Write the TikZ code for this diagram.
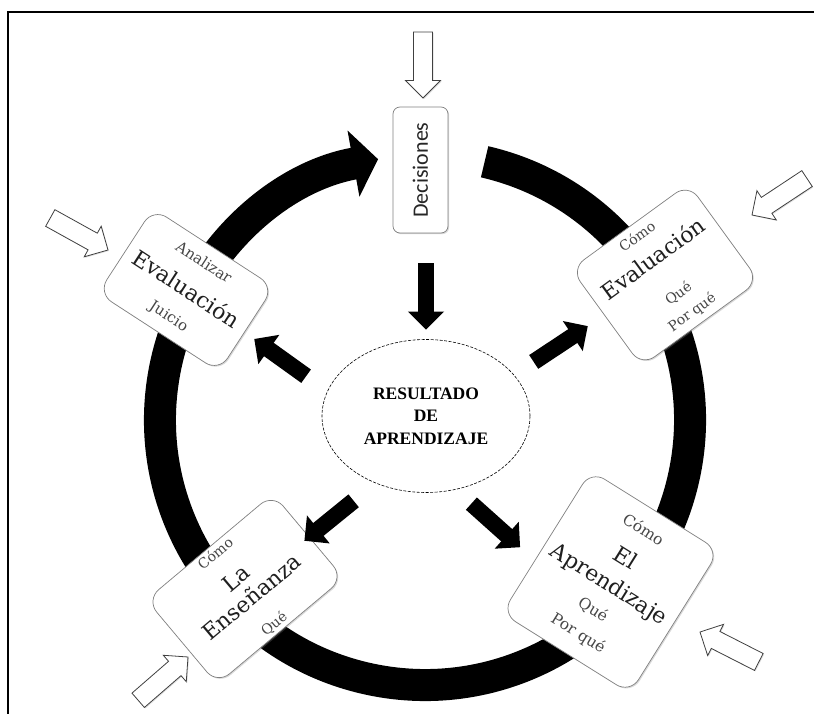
\documentclass[tikz,border=0pt]{standalone}
\usepackage{fontspec}
\setmainfont{DejaVu Serif}
\newfontfamily\calibri{Carlito}
\newfontfamily\resfont{Liberation Serif}
\usetikzlibrary{arrows.meta,shapes.geometric,shadows}
\newcommand\pq[1][14]{\fontsize{#1}{#1}\selectfont\color{black!72}}
\newcommand\gr{\fontsize{22}{22}\selectfont\color{black!88}}
\begin{document}
\begin{tikzpicture}[x=1pt,y=1pt,
	caja/.style={draw=black!50,fill=white,line width=0.7pt,rounded corners=16pt,inner sep=0pt,align=center,
		drop shadow={opacity=0.3,shadow xshift=1.2pt,shadow yshift=-1.2pt}},
	flecha/.style={line width=16.5pt,-{Triangle[length=18pt,width=35pt]}},
	hueca/.pic={\draw[black!75,fill=white,line width=0.8pt,drop shadow={opacity=0.25,shadow xshift=1pt,shadow yshift=-1pt}]
		(0,0) -- (-17.5,17.5) -- (-17.5,9.5) -- (-66,9.5) -- (-66,-9.5) -- (-17.5,-9.5) -- (-17.5,-17.5) -- cycle;}]
	\useasboundingbox (0,0) rectangle (814,713);
	%Marco
	\draw[line width=1.5pt] (8,-20) -- (8,701) -- (840,701);
	%Circulo
	\coordinate (c) at (425,293);
	\draw[line width=32pt,-{Triangle[length=25pt,width=66pt]}] ([shift={(77:265pt)}]c) arc[start angle=77,end angle=-259.8,radius=265pt];
	%Centro
	\node[ellipse,draw,dash pattern=on 3pt off 1.5pt,line width=0.6pt,minimum width=208pt,minimum height=153pt,inner sep=0pt,align=center,
		font=\resfont\bfseries\fontsize{17.5}{22.5}\selectfont] (res) at (426,297) {RESULTADO\\DE\\APRENDIZAJE};
	%Caja 1
	\node[caja,rounded corners=7pt,rotate=90,minimum width=126pt,minimum height=55pt,text=black!85,
		font=\calibri\fontsize{22}{22}\selectfont] (dec) at (420.5,543) {Decisiones};
	%Caja 2
	\node[caja,rotate=36,minimum width=145pt,minimum height=120pt,font=\fontsize{13}{23}\selectfont] (evr) at (665,438)
		{{\pq Cómo}\\[7pt]{\gr Evaluación}\\[17pt]{\pq Qué}\\{\pq Por qué}};
	%Caja 3
	\node[caja,rotate=-33,minimum width=144pt,minimum height=101pt,font=\fontsize{13}{29.5}\selectfont] (evl) at (186,423)
		{{\pq[15] Analizar}\\[5pt]{\gr Evaluación}\\{\pq[15] Juicio}};
	%Caja 4
	\node[caja,rotate=40,minimum width=165pt,minimum height=110pt,font=\fontsize{13}{24.7}\selectfont] (enl) at (245,124)
		{{\pq Cómo}\\[10pt]{\gr La}\\{\gr Enseñanza}\\[7pt]{\pq Qué}};
	%Caja 5
	\node[caja,rotate=-32,minimum width=151pt,minimum height=168pt,font=\fontsize{13}{26}\selectfont] (ela) at (610.5,131)
		{{\pq[15.5] Cómo}\\[9.7pt]{\gr El}\\[4.6pt]{\gr Aprendizaje}\\[2pt]{\pq[15.5] Qué}\\[2pt]{\pq[15.5] Por qué}};
	%Flechas negras
	\draw[flecha,shorten <=30pt,shorten >=9.5pt] (res.north |- dec.west) -- (res.north);
	\draw[flecha,shorten <=26pt,shorten >=84pt] (res.166) -- (evl.center);
	\draw[flecha,shorten <=23.5pt,shorten >=92.6pt] (res.25) -- (evr.center);
	\draw[flecha,shorten <=28pt,shorten >=76.5pt] (res.233) -- (enl.center);
	\draw[flecha,shorten <=21pt,shorten >=19.5pt] (res.292) -- (ela.196);
	%Flechas huecas
	\pic[rotate=-90] (hdec) at (423,615) {hueca};
	\pic[rotate=213.5] (hevr) at (752,498) {hueca};
	\pic[rotate=-29] (hevl) at (108,463) {hueca};
	\pic[rotate=41] (henl) at (188,56) {hueca};
	\pic[rotate=153] (hela) at (700,81) {hueca};
\end{tikzpicture}
\end{document}
